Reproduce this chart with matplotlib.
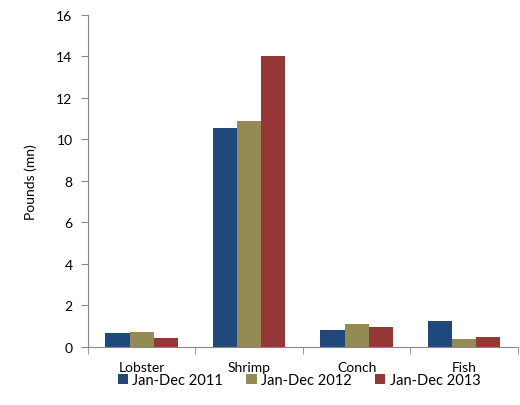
import matplotlib
matplotlib.use("Agg")
import matplotlib.pyplot as plt
import numpy as np

categories = ["Lobster", "Shrimp", "Conch", "Fish"]
series_names = ["Jan-Dec 2011", "Jan-Dec 2012", "Jan-Dec 2013"]
values_2011 = [0.66, 10.55, 0.80, 1.25]
values_2012 = [0.71, 10.88, 1.09, 0.36]
values_2013 = [0.45, 14.0, 0.95, 0.50]
colors = ["#1F497D", "#948A54", "#953735"]

plt.rcParams["font.family"] = ["Lato", "DejaVu Sans"]

fig = plt.figure(figsize=(5.2, 4.06), dpi=100)
ax = fig.add_axes([0.169, 0.143, 0.827, 0.818])

x = np.arange(len(categories))
w = 0.225
for i, (vals, name, c) in enumerate(zip([values_2011, values_2012, values_2013], series_names, colors)):
    ax.bar(x + (i - 1) * w, vals, width=w, color=c, label=name, edgecolor="none")

ax.set_xlim(-0.5, len(categories) - 0.5)
ax.set_ylim(0, 16)
ax.set_yticks(np.arange(0, 17, 2))
ax.set_xticks(x)
ax.set_xticklabels(categories)
ax.set_xticks(np.arange(-0.5, len(categories)), minor=True)
ax.tick_params(axis="x", which="major", length=0, pad=10, labelsize=10)
ax.tick_params(axis="x", which="minor", length=5, color="#888888", direction="out")
ax.tick_params(axis="y", length=5, color="#888888", direction="out", labelsize=10, pad=6)

for s in ["top", "right"]:
    ax.spines[s].set_visible(False)
for s in ["left", "bottom"]:
    ax.spines[s].set_color("#888888")

ax.set_ylabel("Pounds (mn)", fontsize=10, labelpad=14)

fig.legend(loc="center", bbox_to_anchor=(0.575, 0.062), ncol=3, frameon=False,
           fontsize=10.5, handlelength=0.7, handleheight=0.7, handletextpad=0.3,
           columnspacing=1.6)

fig.savefig("out.png", dpi=100)
